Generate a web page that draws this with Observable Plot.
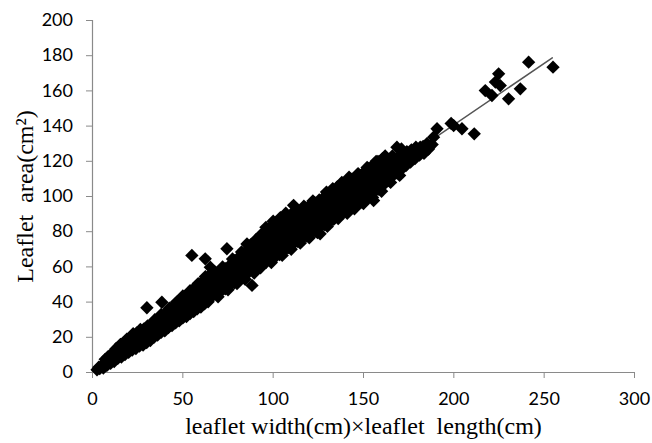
<!DOCTYPE html>
<html><head><meta charset="utf-8">
<script src="https://cdn.jsdelivr.net/npm/d3@7"></script>
<script src="https://cdn.jsdelivr.net/npm/@observablehq/plot@0.6"></script>
<style>body{margin:0;background:#fff}</style>
</head><body><div id="chart"></div>
<script>
// leaflet width x length (cm) , leaflet area (cm2)
const lowBand = [[2.5,1.5],[3.5,3],[4,2.2],[5,3.8],[6,3.5],[6.5,4.8],[7.5,4.5],[8,6],[9,5.5],[9.5,7.2],[10.5,6.5],[11,8],[12,7.5],[12.5,9.3],[13.5,8.4],[14,10.2],[15,9.2],[15.5,11.5],[16.5,10.4],[17,12.6],[18,11.3],[18.5,13.8],[19.5,12],[20,14.5],[20.5,16],[21.5,13],[22,15.2],[23,17.5],[23.5,14.4],[24.5,16.6],[25,19.5],[26,15.5],[26.5,18.3],[27.5,20.8],[28,17.2],[29,19.6],[29.5,22.5],[30.5,18.4],[31,21],[32,23.5],[32.5,19.8],[33.5,22.3],[34,25.5],[35,21.4],[35.5,24],[36.5,27],[37,23],[38,26],[38.5,29],[39.5,24.8],[40,28],[41,31],[41.5,26],[42,29.5],[43,33],[43.5,27.5],[44.5,31],[45,35],[45.5,29],[46.5,33],[47,36.5],[47.5,30.5],[48.5,34.5],[49,38.5],[50,32],[50.5,36],[51,40.5],[52,33.5],[52.5,38],[53,42],[54,35],[54.5,39.5],[55,44],[56,36.5],[56.5,41],[57,45.5],[57.5,49],[58,38],[58.5,43],[59,47.5],[60,40],[60.5,44.5],[61,49],[62,41.5],[62.5,46],[63,50.5],[64,43],[64.5,48],[65,52]];
const lowUpperEdge = [[7,7.5],[8.5,8.8],[10,10.2],[11.5,11],[13,13.5],[14.5,14.2],[15.5,16],[17.5,16.8],[19,19],[21,19.5],[22.5,22],[24.5,22.5],[26.5,24.5],[28.5,24.8],[30.5,26.5],[32.5,27.5],[34.5,30],[36,30.5],[38,33],[40,33.5],[42.5,36.5],[44.5,37.5],[46.5,40],[48,41],[50,43.5],[52,44],[54,46.5],[56,47.5],[58.5,50.5],[60.5,51.5],[62.5,54.5],[64.5,55]];
const lowLowerEdge = [[6,2.5],[8,4],[10,5.2],[12,6.2],[14,8],[16,8.8],[18,10.2],[20,11.5],[22,12.8],[24,13.6],[26,15],[28,15.6],[30,17],[32,18.2],[34,20],[36,21.2],[38,22.8],[40,23.6],[42,25.5],[44,26.6],[46,28.2],[48,29.4],[50,31],[52,31.8],[54,33.5],[56,34.6],[58,36.2],[60,37.2],[62,39],[64,40.2]];
const midBand = [[66,43],[65.5,47],[66.5,51],[66,54.5],[68.5,44.5],[68,49],[69,53],[68.5,56],[71,46],[70.5,50.5],[71.5,54.5],[71,57.5],[73.5,47.5],[73,52],[74,56],[73.5,59],[76,49.5],[75.5,53.5],[76.5,57.5],[76,61],[78.5,51],[78,55.5],[79,60],[78.5,63.5],[81,53],[80.5,57.5],[81.5,61.5],[81,65.5],[83.5,55],[83,59],[84,63.5],[83.5,67.5],[86,56.5],[85.5,61],[86.5,65.5],[86,69.5],[88.5,58],[88,62.5],[89,67],[88.5,71.5],[91,59.5],[90.5,64],[91.5,68.5],[91,72],[90.5,75.5],[93.5,61],[93,65.5],[94,70],[93.5,74],[93,78],[96,62.5],[95.5,67],[96.5,71.5],[96,76],[95.5,80],[98.5,64],[98,68.5],[99,73],[98.5,77.5],[98,82],[101,65.5],[100.5,70],[101.5,74.5],[101,79],[100.5,84],[103.5,67],[103,71.5],[104,76],[103.5,80.5],[103,85.5],[106,69],[105.5,73.5],[106.5,78],[106,82.5],[105.5,87],[108.5,71],[108,75.5],[109,80],[108.5,84.5],[108,89],[111,73],[110.5,77.5],[111.5,82],[111,86],[110.5,90],[113.5,74.5],[113,79],[114,83],[113.5,87],[113,91],[116,76],[115.5,80.5],[116.5,84.5],[116,88.5],[115.5,92],[118.5,77.5],[118,82],[119,86],[118.5,90],[118,93.5],[121,79],[120.5,83.5],[121.5,87.5],[121,91.5],[120.5,95],[123.5,80.5],[123,85],[124,89],[123.5,93],[123,96.5],[126,82.5],[125.5,86.5],[126.5,90.5],[126,94.5],[125.5,98]];
const midEdge = [[67.5,57.5],[72,60],[77.5,64.5],[82.5,68.5],[87.5,72.5],[92,76.5],[96,82.5],[100,86],[104,88],[107,90.5],[112,92],[117,94.5],[122,97.5],[69.5,43],[75,47],[80,50.5],[84.5,53],[89.5,56.5],[93,59.5],[99,62.5],[105,66.5],[110,70],[115,73.5],[120,76.5],[124.5,79.5]];
const highBand = [[128.5,84],[128,88],[129,92],[128.5,96],[128,99.5],[131,85.5],[130.5,89.5],[131.5,93.5],[131,97.5],[130.5,101],[133.5,87],[133,91],[134,95],[133.5,99],[133,103],[136,89],[135.5,93],[136.5,97],[136,101],[135.5,105.5],[138.5,90.5],[138,94.5],[139,98.5],[138.5,103],[138,107.5],[141,92],[140.5,96],[141.5,100.5],[141,104.5],[140.5,108.5],[143.5,93.5],[143,97.5],[144,102],[143.5,106],[143,110],[146,95],[145.5,99],[146.5,103],[146,107],[145.5,111],[148.5,96.5],[148,100.5],[149,104.5],[148.5,108.5],[148,112],[151,98],[150.5,102],[151.5,106],[151,110],[150.5,114],[153.5,100],[153,104],[154,108],[153.5,112],[153,116],[156,102.5],[155.5,106.5],[156.5,110.5],[156,114.5],[155.5,118],[158.5,104],[158,108],[159,112],[158.5,116],[158,120],[161,106.5],[160.5,110.5],[161.5,114.5],[161,118],[160.5,121.5],[163.5,109],[163,113],[164,117],[163.5,121],[166,111.5],[165.5,115.5],[166.5,119.5],[166,123],[168.5,113.5],[168,118],[169,122],[168.5,128],[171,115.5],[170.5,119.5],[171.5,124],[173.5,117.5],[173,121.5],[174,125.5],[176,119.5],[175.5,123.5],[176.5,126.5],[178.5,121.5],[178,125],[179,128],[181,123.5],[181.5,126.5],[183.5,124.5],[183,128.5],[186,127],[188,129.5]];
const highEdge = [[129.5,102.5],[133,104.5],[138,108],[142,111],[147,113],[152,116.5],[157,120],[162,123],[171,127],[130,83],[136,87.5],[141,90.5],[145,93],[150,96],[155,99.5],[160,103],[165,108],[170,112]];
const sparsePoints = [[30.1,36.8],[38.4,39.9],[55,66.5],[62.4,64.6],[65.2,59.8],[74.4,70.3],[85.5,73],[88.3,49.5],[111.3,95],[126,78.8],[155.6,97.7],[181.4,128],[185.1,130],[188.8,133.7],[190.7,138.5],[198.5,141.5],[199.9,140.3],[204.5,138.5],[211.3,135.6],[217.4,160.2],[221.1,157.4],[223,165],[224.8,169.7],[225.7,163],[230.3,155.5],[236.8,161.2],[241.4,176.3],[254.9,173.5]];
const trendX = [3, 254.5];
const trendY = [3, 178.8];
const xTicks = [0, 50, 100, 150, 200, 250, 300];
const yTicks = [0, 20, 40, 60, 80, 100, 120, 140, 160, 180, 200];
const xTitle = "leaflet width(cm)\u00d7leaflet\u00a0 length(cm)";
const yTitle = "Leaflet\u00a0 area(cm\u00b2)";

const points = [...lowBand, ...lowUpperEdge, ...lowLowerEdge, ...midBand, ...midEdge, ...highBand, ...highEdge, ...sparsePoints].map(([x, y]) => ({x, y}));
const trend = trendX.map((x, i) => ({x, y: trendY[i]}));
const axisGray = "#8a8a8a";

const chart = Plot.plot({
  width: 652, height: 443,
  marginLeft: 92, marginRight: 18, marginTop: 20, marginBottom: 71,
  style: {fontFamily: "Lato", fontSize: "18px", color: "#000", background: "#fff"},
  x: {domain: [0, 300]},
  y: {domain: [0, 200]},
  marks: [
    Plot.ruleX([0], {stroke: axisGray, strokeWidth: 1.2}),
    Plot.ruleY([0], {stroke: axisGray, strokeWidth: 1.2}),
    Plot.axisX({ticks: xTicks, tickSize: 6, stroke: axisGray, tickFormat: () => "", label: null}),
    Plot.axisY({ticks: yTicks, tickSize: 6, stroke: axisGray, tickFormat: () => "", label: null}),
    Plot.axisX({ticks: xTicks, tickSize: 0, tickPadding: 19.5, fill: "#000", label: null}),
    Plot.axisY({ticks: yTicks, tickSize: 0, tickPadding: 19.5, fill: "#000", label: null}),
    Plot.line(trend, {x: "x", y: "y", stroke: "#555", strokeWidth: 1.5}),
    Plot.dot(points, {x: "x", y: "y", symbol: "diamond2", r: 6, fill: "#000"}),
    Plot.text([xTitle], {text: d => d, frameAnchor: "bottom", lineAnchor: "bottom", dy: 61, fontFamily: "Liberation Serif", fontSize: 24, fill: "#000"}),
    Plot.text([yTitle], {text: d => d, frameAnchor: "left", textAnchor: "middle", rotate: -90, lineAnchor: "bottom", dx: -60, fontFamily: "Liberation Serif", fontSize: 24, fill: "#000"})
  ]
});
document.getElementById("chart").appendChild(chart);
</script>
</body></html>
